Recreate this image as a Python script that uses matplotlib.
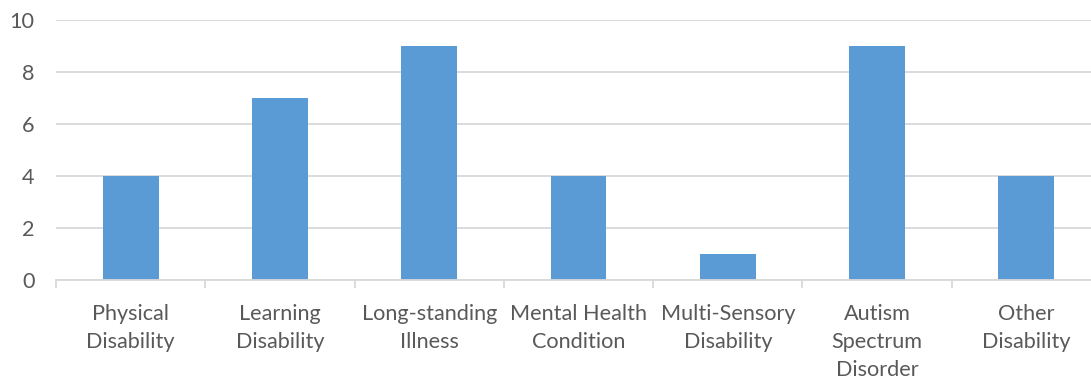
import matplotlib
matplotlib.use("Agg")
import matplotlib.pyplot as plt
import numpy as np

categories = [
    "Physical\nDisability",
    "Learning\nDisability",
    "Long-standing\nIllness",
    "Mental Health\nCondition",
    "Multi-Sensory\nDisability",
    "Autism\nSpectrum\nDisorder",
    "Other\nDisability",
]
counts = [4, 7, 9, 4, 1, 9, 4]
y_ticks = [0, 2, 4, 6, 8, 10]

BAR = "#5B9BD5"
GRID = "#D9D9D9"
TEXT = "#595959"

plt.rcParams["font.family"] = ["Lato", "DejaVu Sans"]

W, H = 1091, 379
fig = plt.figure(figsize=(W / 100, H / 100), dpi=100)
left, right, bottom, top = 56, 1101, 280, 19.7
ax = fig.add_axes([left / W, 1 - bottom / H, (right - left) / W, (bottom - top) / H])

x = np.arange(len(categories))
ax.bar(x, counts, width=0.375, color=BAR, zorder=3)

ax.set_xlim(-0.5, len(categories) - 0.5)
ax.set_ylim(0, 10)
ax.set_yticks(y_ticks)
ax.yaxis.grid(True, color=GRID, linewidth=1.3, zorder=0)
ax.set_axisbelow(True)

for s in ["top", "right", "left"]:
    ax.spines[s].set_visible(False)
ax.spines["bottom"].set_color(GRID)
ax.spines["bottom"].set_linewidth(1.3)
ax.spines["bottom"].set_zorder(4)

ax.set_xticks(x)
ax.set_xticklabels(categories, linespacing=1.5)
ax.set_xticks(np.arange(-0.5, len(categories)), minor=True)
ax.tick_params(axis="x", which="major", length=0, pad=17, labelsize=15.6, labelcolor=TEXT)
ax.tick_params(axis="x", which="minor", length=6, width=1.3, color=GRID, direction="out")
ax.tick_params(axis="y", length=0, pad=15.5, labelsize=15.6, labelcolor=TEXT)

fig.savefig("out.png", dpi=100)
